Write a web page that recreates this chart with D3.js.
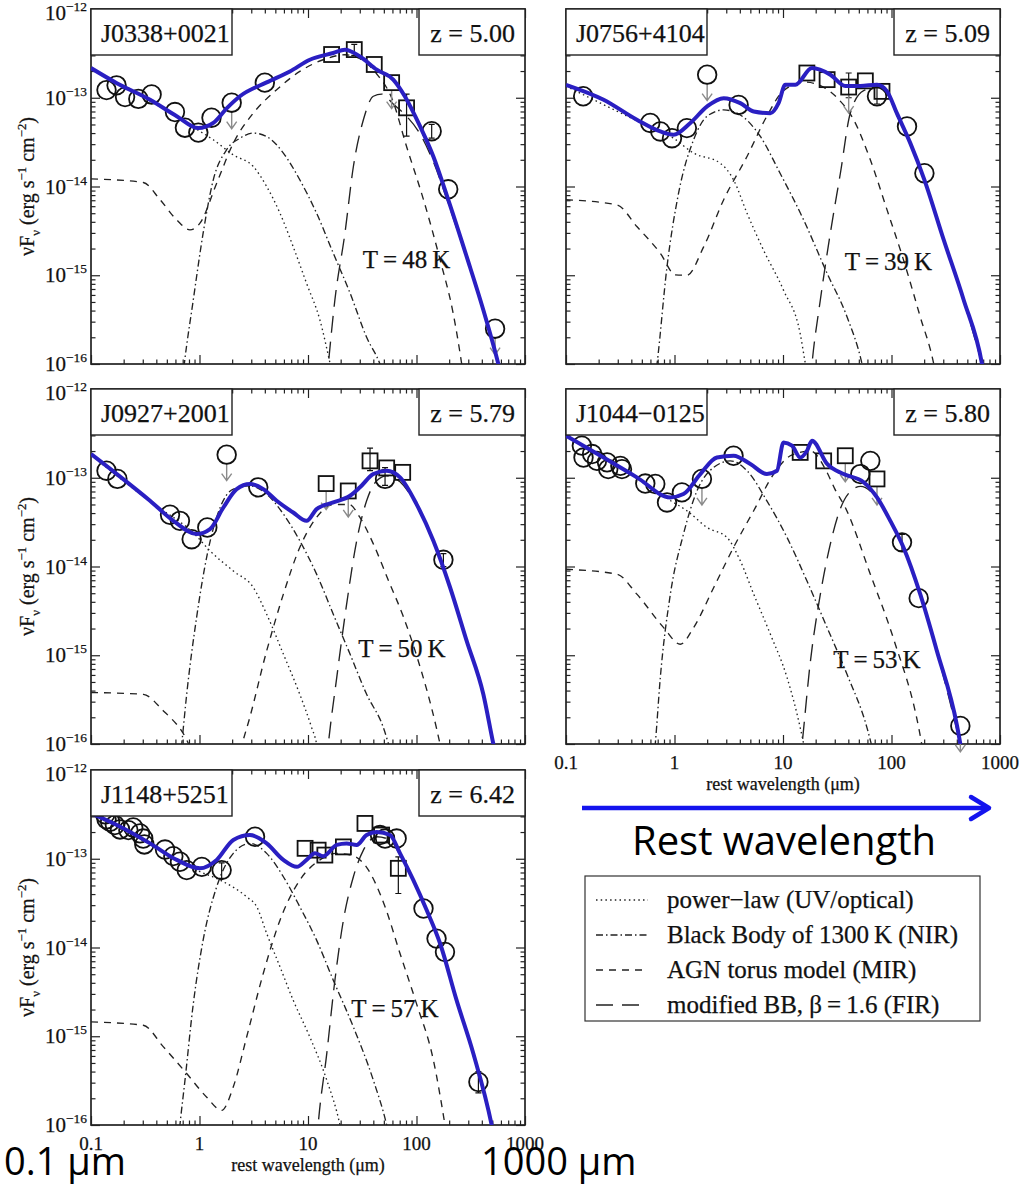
<!DOCTYPE html>
<html>
<head>
<meta charset="utf-8">
<title>Quasar SEDs</title>
<script src="https://d3js.org/d3.v7.min.js"></script>
<style>
    body { margin: 0; background: #fff; }
    svg text { font-family: "Liberation Serif", "Times New Roman", serif; fill: #111; stroke: #111; stroke-width: 0.25px; }
    svg text.big { font-family: "Open Sans", sans-serif; fill: #000; stroke: none; }
</style>
</head>
<body>
<div id="chart"></div>
<script>
// ---- labels ----
const quasarNames = ["J0338+0021", "J0756+4104", "J0927+2001", "J1044\u22120125", "J1148+5251"];
const redshifts = ["z = 5.00", "z = 5.09", "z = 5.79", "z = 5.80", "z = 6.42"];
const tempLabels = ["T\u2009=\u200948\u2009K", "T\u2009=\u200939\u2009K", "T\u2009=\u200950\u2009K", "T\u2009=\u200953\u2009K", "T\u2009=\u200957\u2009K"];
const tempAnchors = [[32, 1.2e-15], [37, 1.15e-15], [29, 9.5e-16], [29, 7.2e-16], [25, 1.65e-15]];
const xTickValues = [0.1, 1, 10, 100, 1000];
const xTickLabels = ["0.1", "1", "10", "100", "1000"];
const yTickValues = [1e-12, 1e-13, 1e-14, 1e-15, 1e-16];
const yTickExps = ["\u221212", "\u221213", "\u221214", "\u221215", "\u221216"];
const legendLabels = ["power\u2212law (UV/optical)", "Black Body of 1300\u2009K (NIR)",
    "AGN torus model (MIR)", "modified BB, \u03b2\u2009=\u20091.6 (FIR)"];

// ---- J0338+0021 ----
const p1Total = [[0.1,2.16e-13],[0.173,1.46e-13],[0.35,9.5e-14],[0.617,6.2e-14],[0.975,4.55e-14],[1.34,5.2e-14],[1.78,7.6e-14],[2.36,1.04e-13],[4.16,1.49e-13],[6.8,1.98e-13],[10.4,2.68e-13],[17.1,3.19e-13],[21.9,3.47e-13],[30.1,2.92e-13],[43,2.07e-13],[61,1.6e-13],[78,1.04e-13],[108,4.75e-14],[143,2.18e-14],[196,7.1e-15],[290,1.62e-15],[413,4.06e-16],[568,1e-16],[650,5e-17]];
const p1Power = [[0.1,2.1e-13],[0.35,9.2e-14],[0.975,4.3e-14],[1.34,3.36e-14],[2.05,2.27e-14],[3.13,1.68e-14],[4.16,1.0e-14],[5.52,5.0e-15],[7.3,2.1e-15],[9.7,8.1e-16],[12.9,3.1e-16],[16,1e-16],[18,5e-17]];
const p1BB = [[0.65,3e-17],[0.724,1e-16],[0.877,5.3e-16],[1.08,2.98e-15],[1.34,1.19e-14],[1.78,2.6e-14],[2.36,3.5e-14],[3.13,4.0e-14],[4.16,3.66e-14],[5.93,2.38e-14],[8.4,1.19e-14],[12,5.0e-15],[17.1,1.77e-15],[24.4,6.3e-16],[34.7,2.0e-16],[46,1e-16],[55,5e-17]];
const p1Torus = [[0.1,1.22e-14],[0.303,1.11e-14],[0.433,7.1e-15],[0.617,4.2e-15],[0.817,3.24e-15],[1.01,3.86e-15],[1.44,1.09e-14],[2.05,3.08e-14],[3.13,6.7e-14],[5.14,1.23e-13],[8.4,1.98e-13],[13.8,2.68e-13],[21.9,3.05e-13],[30.1,2.75e-13],[43,1.85e-13],[59,1.0e-13],[81,2.82e-14],[116,7.1e-15],[165,1.49e-15],[218,3.7e-16],[261,1e-16],[290,4e-17]];
const p1FIR = [[14,3e-17],[15.4,1e-16],[17.7,5.3e-16],[21.9,2.98e-15],[26.2,1.68e-14],[32.4,5.65e-14],[40,1.04e-13],[47.7,1.1e-13],[61,8.5e-14],[78,6.5e-14],[108,3.9e-14],[143,1.9e-14],[196,6.5e-15],[290,1.55e-15],[413,4e-16],[568,1e-16]];
const p1Circles = [[0.139,1.22e-13],[0.172,1.38e-13],[0.206,1.02e-13],[0.273,9.7e-14],[0.362,1.09e-13],[0.594,6.9e-14],[0.734,4.6e-14],[0.975,4.05e-14],[1.29,5.96e-14],[4.0,1.48e-13],[138,4.2e-14],[196,9.3e-15]];
const p1Squares = [[16.5,3.07e-13],[26.7,3.49e-13],[40.8,2.37e-13],[81,7.7e-14]];
const p1Limits = [[1.98,8.8e-14,"o"],[59,1.48e-13,"s"],[530,2.5e-16,"o"]];
const p1Errors = [[81,3.7e-14,1.1e-13],[26.7,3.0e-13,4.0e-13],[138,3.5e-14,5.0e-14]];

// ---- J0756+4104 ----
const p2Total = [[0.1,1.4e-13],[0.222,9.5e-14],[0.45,5.65e-14],[0.74,4.17e-14],[0.98,3.83e-14],[1.4,5.2e-14],[2.0,8.0e-14],[2.84,9.9e-14],[4.04,8.7e-14],[5.37,7.0e-14],[7.64,6.7e-14],[9.1,8.7e-14],[10.5,1.4e-13],[13,1.4e-13],[18.5,2.16e-13],[27.3,1.82e-13],[37.5,1.36e-13],[51.6,1.36e-13],[73.5,1.4e-13],[91,1.18e-13],[112,6.7e-14],[149,3.08e-14],[201,1.19e-14],[303,2.5e-15],[462,5.3e-16],[683,1e-16],[750,5e-17]];
const p2Power = [[0.1,1.35e-13],[0.45,5.5e-14],[0.98,3.5e-14],[1.5,2.38e-14],[2.64,1.83e-14],[3.5,1.19e-14],[4.66,5.0e-15],[6.6,1.93e-15],[10.1,6.8e-16],[14.4,2.2e-16],[16.1,1e-16],[18,5e-17]];
const p2BB = [[0.6,3e-17],[0.69,1e-16],[0.853,1.25e-15],[1.09,8.4e-15],[1.5,3.36e-14],[2.0,6.2e-14],[2.84,7.3e-14],[4.04,6.4e-14],[6.18,3.66e-14],[9.4,1.41e-14],[15.5,4.2e-15],[25.5,1.05e-15],[38.9,3.4e-16],[53.5,1e-16],[60,5e-17]];
const p2Torus = [[0.1,7.1e-15],[0.295,6.2e-15],[0.45,3.54e-15],[0.74,1.77e-15],[1.02,1.01e-15],[1.3,1.0e-15],[1.86,2.1e-15],[2.84,7.1e-15],[4.66,2.18e-14],[7.1,6.2e-14],[10.1,1.2e-13],[16,1.5e-13],[24,1.3e-13],[31.5,1.0e-13],[44.8,5.65e-14],[63.8,2.0e-14],[91,5.45e-15],[129,1.49e-15],[184,3.4e-16],[245,1e-16],[280,4e-17]];
const p2FIR = [[17,3e-17],[18.5,1e-16],[22.1,5.3e-16],[27.3,2.98e-15],[33.8,1.41e-14],[41.7,6.7e-14],[55.4,1.2e-13],[73.5,1.3e-13],[97.5,9.5e-14],[112,6.4e-14],[149,3.0e-14],[201,1.17e-14],[303,2.45e-15],[462,5.2e-16],[683,1e-16]];
const p2Circles = [[0.144,1.04e-13],[0.598,5.2e-14],[0.74,4.17e-14],[0.948,3.5e-14],[1.30,4.55e-14],[3.9,8.3e-14],[73.5,1.04e-13],[139,4.75e-14],[201,1.41e-14]];
const p2Squares = [[16.6,1.9e-13],[25.5,1.6e-13],[57.4,1.55e-13],[81.7,1.18e-13]];
const p2Limits = [[2.0,1.82e-13,"o"],[40.3,1.32e-13,"s"]];
const p2Errors = [[73.5,8.5e-14,1.3e-13],[40.3,1.0e-13,1.9e-13]];

// ---- J0927+2001 ----
const p3Total = [[0.1,1.85e-13],[0.173,1.1e-13],[0.35,5.5e-14],[0.574,3.27e-14],[0.94,2.32e-14],[1.25,2.64e-14],[1.66,4.62e-14],[2.2,7.45e-14],[2.92,8.5e-14],[3.87,7.45e-14],[5.14,5.5e-14],[7.3,4.06e-14],[9.7,3.27e-14],[12,4.43e-14],[17.1,5.27e-14],[24.4,6.27e-14],[30.1,7.8e-14],[40,1.1e-13],[53.1,1.2e-13],[70.5,1.01e-13],[100,5.05e-14],[143,1.95e-14],[204,5.8e-15],[290,1.45e-15],[413,3.63e-16],[511,1e-16],[580,5e-17]];
const p3Power = [[0.1,1.8e-13],[0.35,5.4e-14],[0.94,2.2e-14],[1.25,1.5e-14],[2.05,8.9e-15],[3.13,5.8e-15],[4.16,2.9e-15],[5.93,1.03e-15],[8.4,3.63e-16],[10.8,1.53e-16],[12,1e-16],[13,5e-17]];
const p3BB = [[0.62,3e-17],[0.686,1e-16],[0.762,3.63e-16],[0.94,2.66e-15],[1.18,1.38e-14],[1.55,4.62e-14],[2.05,7.45e-14],[2.92,8.1e-14],[4.16,6.55e-14],[5.93,3.9e-14],[8.4,1.95e-14],[12,8.2e-15],[17.1,2.9e-15],[24.4,1.03e-15],[34.7,3.63e-16],[49.5,1.53e-16],[60,7e-17]];
const p3Torus = [[0.1,3.8e-16],[0.303,3.63e-16],[0.465,2.36e-16],[0.686,1.4e-16],[1.0,6e-17],[1.8,4e-17],[2.72,1.5e-16],[4.16,1.12e-15],[5.93,4.88e-15],[8.4,1.64e-14],[12,3.57e-14],[17.1,5.0e-14],[24,5.0e-14],[30,3.6e-14],[40,1.8e-14],[55,7e-15],[75,2.8e-15],[100,1.0e-15],[153,1.5e-16],[180,6e-17]];
const p3FIR = [[14,3e-17],[15.4,1e-16],[18.4,5.6e-16],[22.7,3.76e-15],[28.1,1.95e-14],[34.7,5.5e-14],[43,9.25e-14],[53.1,1.05e-13],[70.5,9.0e-14],[100,4.9e-14],[143,1.9e-14],[204,5.7e-15],[290,1.43e-15],[413,3.6e-16],[511,1e-16]];
const p3Circles = [[0.139,1.2e-13],[0.175,9.7e-14],[0.535,3.83e-14],[0.66,3.27e-14],[0.847,2.03e-14],[1.18,2.75e-14],[3.48,7.8e-14],[51.3,9.7e-14],[177,1.19e-14]];
const p3Squares = [[37.3,1.55e-13],[53.1,1.29e-13],[74.6,1.15e-13]];
const p3Limits = [[1.78,1.82e-13,"o"],[14.7,8.6e-14,"s"],[23.5,7.1e-14,"s"]];
const p3Errors = [[37.3,1.2e-13,2.16e-13],[51.3,8.2e-14,1.3e-13],[177,1.0e-14,1.4e-14]];

// ---- J1044-0125 ----
const p4Total = [[0.1,2.98e-13],[0.222,1.69e-13],[0.45,1.01e-13],[0.916,6.0e-14],[1.21,6.55e-14],[1.73,1.1e-13],[2.46,1.69e-13],[3.5,1.77e-13],[5.0,1.43e-13],[7.1,1.1e-13],[8.8,1.2e-13],[10.1,2.5e-13],[12.1,2.3e-13],[14.4,1.69e-13],[16.6,2.0e-13],[18.5,2.61e-13],[25.5,1.43e-13],[36.2,1.1e-13],[55.4,8.9e-14],[73.5,6.0e-14],[97.5,3.27e-14],[129,1.64e-14],[184,4.88e-15],[262,1.12e-15],[402,1.6e-16],[431,1e-16],[480,5e-17]];
const p4Power = [[0.1,2.9e-13],[0.45,9.8e-14],[0.9,5.6e-14],[1.3,4.25e-14],[2.0,2.75e-14],[3.05,2.12e-14],[4.04,1.16e-14],[5.37,4.88e-15],[7.64,1.73e-15],[10.9,5.6e-16],[14.4,1.53e-16],[15.5,1e-16],[17,5e-17]];
const p4BB = [[0.6,3e-17],[0.665,1e-16],[0.74,5.6e-16],[0.916,4.88e-15],[1.21,2.32e-14],[1.61,7.1e-14],[2.3,1.31e-13],[3.27,1.55e-13],[4.66,1.2e-13],[7.1,5.5e-14],[10.9,2.12e-14],[16.6,6.9e-15],[25.5,2.05e-15],[38.9,6.1e-16],[59.4,1.53e-16],[70,7e-17]];
const p4Torus = [[0.1,9.3e-15],[0.295,8.2e-15],[0.45,4.88e-15],[0.794,2.05e-15],[1.13,1.33e-15],[1.5,2.05e-15],[2.3,5.8e-15],[3.5,1.64e-14],[5.37,4.25e-14],[8.2,1.1e-13],[12,1.8e-13],[18,2.0e-13],[25,1.2e-13],[30,7.5e-14],[37.5,4.62e-14],[63.8,8.2e-15],[106,1.45e-15],[178,1.53e-16],[200,7e-17]];
const p4FIR = [[13.5,3e-17],[15,1e-16],[17.9,8.6e-16],[22.1,4.88e-15],[27.3,1.79e-14],[33.8,4.5e-14],[41.7,7.0e-14],[52,8.0e-14],[73.5,5.8e-14],[97.5,3.2e-14],[129,1.6e-14],[184,4.8e-15],[262,1.1e-15],[431,1e-16]];
const p4Circles = [[0.14,2.3e-13],[0.145,1.69e-13],[0.174,1.85e-13],[0.193,1.55e-13],[0.239,1.49e-13],[0.245,1.25e-13],[0.317,1.36e-13],[0.328,1.25e-13],[0.538,8.6e-14],[0.665,8.5e-14],[0.853,5.27e-14],[1.17,6.84e-14],[3.5,1.77e-13],[51.6,1.1e-13],[63.8,1.55e-13],[125,1.87e-14],[178,4.4e-15]];
const p4Squares = [[14.4,1.93e-13],[23.7,1.55e-13]];
const p4Limits = [[1.79,9.7e-14,"o"],[37.5,1.77e-13,"s"],[73.5,9.7e-14,"s"],[431,1.6e-16,"o"]];
const p4Errors = [[125,1.5e-14,2.3e-14]];

// ---- J1148+5251 ----
const p5Total = [[0.1,3.25e-13],[0.173,2.4e-13],[0.35,1.49e-13],[0.617,9.7e-14],[1.01,7.8e-14],[1.44,9.7e-14],[2.05,1.63e-13],[2.92,1.85e-13],[4.16,1.49e-13],[5.93,9.7e-14],[7.9,8.1e-14],[9.7,9.7e-14],[11.6,1.15e-13],[13.8,1.07e-13],[18.4,1.43e-13],[22.7,1.49e-13],[28.1,1.43e-13],[34.7,1.85e-13],[43,2.0e-13],[57,1.85e-13],[70.5,1.15e-13],[93.5,5.74e-14],[124,2.64e-14],[165,1.11e-14],[234,2.55e-15],[334,6.4e-16],[493,1e-16],[550,5e-17]];
const p5Power = [[0.1,3.2e-13],[0.35,1.45e-13],[1.0,7.2e-14],[1.55,5.74e-14],[2.72,3.72e-14],[3.37,2.88e-14],[4.16,1.44e-14],[5.52,6.05e-15],[7.3,2.55e-15],[10.4,9.8e-16],[14.9,3.2e-16],[19.7,1e-16],[22,5e-17]];
const p5BB = [[0.6,3e-17],[0.66,1e-16],[0.735,3.2e-16],[0.877,2.33e-15],[1.08,1.21e-14],[1.44,4.83e-14],[2.05,1.15e-13],[2.92,1.49e-13],[4.16,1.15e-13],[5.93,6.27e-14],[8.4,2.88e-14],[12,1.21e-14],[17.1,4.28e-15],[26.2,1.27e-15],[40,3.2e-16],[53.1,1e-16],[60,5e-17]];
const p5Torus = [[0.1,1.45e-15],[0.303,1.33e-15],[0.465,7.6e-16],[0.762,3.8e-16],[1.16,2.07e-16],[1.6,1.46e-16],[2.05,2.7e-16],[2.72,9.8e-16],[3.87,5.1e-15],[5.52,2.03e-14],[8.4,5.74e-14],[12.9,9.7e-14],[18,1.15e-13],[25,1.1e-13],[34.7,8.0e-14],[51.3,2.88e-14],[70.5,8.55e-15],[100,2.33e-15],[143,5.4e-16],[183,1e-16],[200,5e-17]];
const p5FIR = [[11.5,3e-17],[12.4,1e-16],[14.9,6.4e-16],[17.7,4.28e-15],[21.2,2.03e-14],[26.2,6.27e-14],[32.4,1.25e-13],[43,1.77e-13],[57,1.63e-13],[70.5,1.1e-13],[93.5,5.6e-14],[124,2.6e-14],[165,1.1e-14],[234,2.5e-15],[334,6.3e-16],[493,1e-16]];
const p5Circles = [[0.135,3.16e-13],[0.139,2.78e-13],[0.15,2.61e-13],[0.166,2.4e-13],[0.185,2.14e-13],[0.221,2.1e-13],[0.245,2.25e-13],[0.283,1.93e-13],[0.303,1.69e-13],[0.31,1.45e-13],[0.481,1.27e-13],[0.574,1.07e-13],[0.66,9.25e-14],[0.762,7.45e-14],[1.05,8.1e-14],[1.6,7.45e-14],[3.25,1.77e-13],[46.1,1.85e-13],[51.3,1.69e-13],[65.6,1.69e-13],[116,2.75e-14],[153,1.26e-14],[183,8.9e-15],[372,3.05e-16]];
const p5Squares = [[9.4,1.31e-13],[12.4,1.25e-13],[14.3,1.1e-13],[21.2,1.36e-13],[33.5,2.5e-13],[47.7,1.85e-13],[68,7.8e-14]];
const p5Limits = [];
const p5Errors = [[68,4.06e-14,1.05e-13],[1.6,6e-14,9e-14],[372,2.3e-16,4e-16]];

// ---- layout ----
const width = 1035, height = 1187;
const panelW = 434, panelH = 355;
const blue = "#2a1fc2";
const dashes = { power: "1.5,3.2", bb: "7,3,1.5,3", torus: "7,6", fir: "17,9" };

const panels = [
    { i: 0, x0: 91,  y0: 9,   total: p1Total, power: p1Power, bb: p1BB, torus: p1Torus, fir: p1FIR, circles: p1Circles, squares: p1Squares, limits: p1Limits, errors: p1Errors, yLab: true,  xLab: false },
    { i: 1, x0: 566, y0: 9,   total: p2Total, power: p2Power, bb: p2BB, torus: p2Torus, fir: p2FIR, circles: p2Circles, squares: p2Squares, limits: p2Limits, errors: p2Errors, yLab: false, xLab: false },
    { i: 2, x0: 91,  y0: 389, total: p3Total, power: p3Power, bb: p3BB, torus: p3Torus, fir: p3FIR, circles: p3Circles, squares: p3Squares, limits: p3Limits, errors: p3Errors, yLab: true,  xLab: false },
    { i: 3, x0: 566, y0: 389, total: p4Total, power: p4Power, bb: p4BB, torus: p4Torus, fir: p4FIR, circles: p4Circles, squares: p4Squares, limits: p4Limits, errors: p4Errors, yLab: false, xLab: true },
    { i: 4, x0: 91,  y0: 770, total: p5Total, power: p5Power, bb: p5BB, torus: p5Torus, fir: p5FIR, circles: p5Circles, squares: p5Squares, limits: p5Limits, errors: p5Errors, yLab: true,  xLab: true }
];

const minorX = [], minorY = [];
[0.1, 1, 10, 100].forEach(d => { for (let k = 2; k <= 9; k++) minorX.push(d * k); });
[1e-16, 1e-15, 1e-14, 1e-13].forEach(d => { for (let k = 2; k <= 9; k++) minorY.push(d * k); });

const svg = d3.select("#chart").append("svg")
    .attr("width", width)
    .attr("height", height);
svg.append("rect").attr("width", width).attr("height", height).attr("fill", "#fff");

// text with super/subscripts: parts = [[string, -1 sup | 0 | 1 sub]]
function richText(sel, parts, size) {
    let prev = 0;
    parts.forEach(([s, k]) => {
        const shift = k === 0 ? 0 : (k < 0 ? -0.42 * size : 0.28 * size);
        sel.append("tspan")
            .attr("dy", shift - prev)
            .attr("font-size", k === 0 ? size : size * 0.64)
            .text(s);
        prev = shift;
    });
}

panels.forEach(p => {
    const x = d3.scaleLog().domain([0.1, 1000]).range([p.x0, p.x0 + panelW]);
    const y = d3.scaleLog().domain([1e-16, 1e-12]).range([p.y0 + panelH, p.y0]);
    const g = svg.append("g");

    g.append("clipPath").attr("id", "clip" + p.i)
        .append("rect").attr("x", p.x0).attr("y", p.y0).attr("width", panelW).attr("height", panelH);

    // ticks on all four sides, pointing inward
    const axes = [
        [d3.axisBottom(x), `translate(0,${p.y0 + panelH})`, xTickValues, minorX],
        [d3.axisTop(x), `translate(0,${p.y0})`, xTickValues, minorX],
        [d3.axisLeft(y), `translate(${p.x0},0)`, yTickValues, minorY],
        [d3.axisRight(y), `translate(${p.x0 + panelW},0)`, yTickValues, minorY]
    ];
    axes.forEach(([ax, tr, major, minor]) => {
        [[major, 9], [minor, 4.5]].forEach(([vals, len]) => {
            const a = g.append("g").attr("transform", tr)
                .call(ax.tickValues(vals).tickSizeInner(-len).tickSizeOuter(0).tickFormat(""));
            a.select(".domain").remove();
            a.selectAll(".tick line").attr("stroke", "#222").attr("stroke-width", 1.2);
        });
    });

    g.append("rect")
        .attr("x", p.x0).attr("y", p.y0).attr("width", panelW).attr("height", panelH)
        .attr("fill", "none").attr("stroke", "#222").attr("stroke-width", 1.7);

    // model components
    const line = d3.line().x(d => x(d[0])).y(d => y(d[1])).curve(d3.curveMonotoneX);
    const comps = g.append("g").attr("clip-path", `url(#clip${p.i})`);
    [["power", p.power], ["bb", p.bb], ["torus", p.torus], ["fir", p.fir]].forEach(([k, data]) => {
        comps.append("path").datum(data)
            .attr("d", line)
            .attr("fill", "none")
            .attr("stroke", "#222")
            .attr("stroke-width", 1.35)
            .attr("stroke-dasharray", dashes[k]);
    });

    // photometry
    const marks = g.append("g").attr("fill", "none").attr("stroke", "#111").attr("stroke-width", 1.8);
    marks.selectAll(".err").data(p.errors).join("path")
        .attr("class", "err")
        .attr("stroke-width", 1.2)
        .attr("d", d => `M${x(d[0])},${y(d[1])}V${y(d[2])}M${x(d[0]) - 3},${y(d[1])}h6M${x(d[0]) - 3},${y(d[2])}h6`);
    marks.selectAll(".lim").data(p.limits).join("path")
        .attr("class", "lim")
        .attr("stroke", "#8a8a8a").attr("stroke-width", 1.4)
        .attr("d", d => {
            const cx = x(d[0]), top = y(d[1]) + 8, bot = y(d[1]) + 26;
            return `M${cx},${top}V${bot}M${cx - 5},${bot - 7}L${cx},${bot}L${cx + 5},${bot - 7}`;
        });
    const allCircles = p.circles.concat(p.limits.filter(d => d[2] === "o"));
    const allSquares = p.squares.concat(p.limits.filter(d => d[2] === "s"));
    marks.selectAll("circle").data(allCircles).join("circle")
        .attr("cx", d => x(d[0])).attr("cy", d => y(d[1])).attr("r", 9.3);
    marks.selectAll(".sq").data(allSquares).join("rect")
        .attr("class", "sq")
        .attr("x", d => x(d[0]) - 7.5).attr("y", d => y(d[1]) - 7.5)
        .attr("width", 15).attr("height", 15);

    // total model
    g.append("path").datum(p.total)
        .attr("clip-path", `url(#clip${p.i})`)
        .attr("d", line)
        .attr("fill", "none")
        .attr("stroke", blue)
        .attr("stroke-width", 4)
        .attr("stroke-linejoin", "round");

    // name and redshift boxes
    g.append("rect").attr("x", p.x0).attr("y", p.y0).attr("width", 141).attr("height", 46)
        .attr("fill", "#fff").attr("stroke", "#222").attr("stroke-width", 1.4);
    g.append("text").attr("x", p.x0 + 10).attr("y", p.y0 + 33)
        .attr("font-size", 26).text(quasarNames[p.i]);
    g.append("rect").attr("x", p.x0 + panelW - 106).attr("y", p.y0).attr("width", 106).attr("height", 46)
        .attr("fill", "#fff").attr("stroke", "#222").attr("stroke-width", 1.4);
    g.append("text").attr("x", p.x0 + panelW - 10).attr("y", p.y0 + 33)
        .attr("text-anchor", "end").attr("font-size", 26).text(redshifts[p.i]);

    // dust temperature
    g.append("text")
        .attr("x", x(tempAnchors[p.i][0])).attr("y", y(tempAnchors[p.i][1]))
        .attr("font-size", 25).text(tempLabels[p.i]);

    if (p.yLab) {
        yTickValues.forEach((v, j) => {
            const t = g.append("text").attr("x", p.x0 - 4).attr("y", y(v) + (j === 0 ? 11 : 7))
                .attr("text-anchor", "end");
            richText(t, [["10", 0], [yTickExps[j], -1]], 21);
        });
        const yl = g.append("text")
            .attr("transform", `translate(34,${p.y0 + panelH / 2}) rotate(-90)`)
            .attr("text-anchor", "middle");
        richText(yl, [["\u03bdF", 0], ["\u03bd", 1], [" (erg s", 0], ["\u22121", -1], [" cm", 0], ["\u22122", -1], [")", 0]], 20);
    }
    if (p.xLab) {
        xTickValues.forEach((v, j) => {
            g.append("text").attr("x", x(v)).attr("y", p.y0 + panelH + 25)
                .attr("text-anchor", "middle").attr("font-size", 19).text(xTickLabels[j]);
        });
        g.append("text").attr("x", p.x0 + panelW / 2).attr("y", p.y0 + panelH + 46)
            .attr("text-anchor", "middle").attr("font-size", 18).text("rest wavelength (\u03bcm)");
    }
});

// legend
const lg = svg.append("g");
lg.append("rect").attr("x", 585).attr("y", 876).attr("width", 395).attr("height", 145)
    .attr("fill", "#fff").attr("stroke", "#333").attr("stroke-width", 1.2);
["power", "bb", "torus", "fir"].forEach((k, j) => {
    const yy = 900 + j * 35;
    lg.append("line").attr("x1", 596).attr("x2", 648).attr("y1", yy).attr("y2", yy)
        .attr("stroke", "#222").attr("stroke-width", 1.3).attr("stroke-dasharray", dashes[k]);
    lg.append("text").attr("x", 667).attr("y", yy + 8).attr("font-size", 25).text(legendLabels[j]);
});

// annotations
svg.append("line").attr("x1", 582).attr("x2", 988).attr("y1", 808).attr("y2", 808)
    .attr("stroke", "#1414ee").attr("stroke-width", 4.5);
svg.append("path").attr("d", "M971,797L989,808L971,819")
    .attr("fill", "none").attr("stroke", "#1414ee").attr("stroke-width", 4.5)
    .attr("stroke-linecap", "round").attr("stroke-linejoin", "round");
svg.append("text").attr("class", "big").attr("x", 784).attr("y", 855)
    .attr("text-anchor", "middle").attr("font-size", 40).text("Rest wavelength");
svg.append("text").attr("class", "big").attr("x", 4).attr("y", 1175)
    .attr("font-size", 38).text("0.1 \u03bcm");
svg.append("text").attr("class", "big").attr("x", 481).attr("y", 1175)
    .attr("font-size", 38).text("1000 \u03bcm");
</script>
</body>
</html>
